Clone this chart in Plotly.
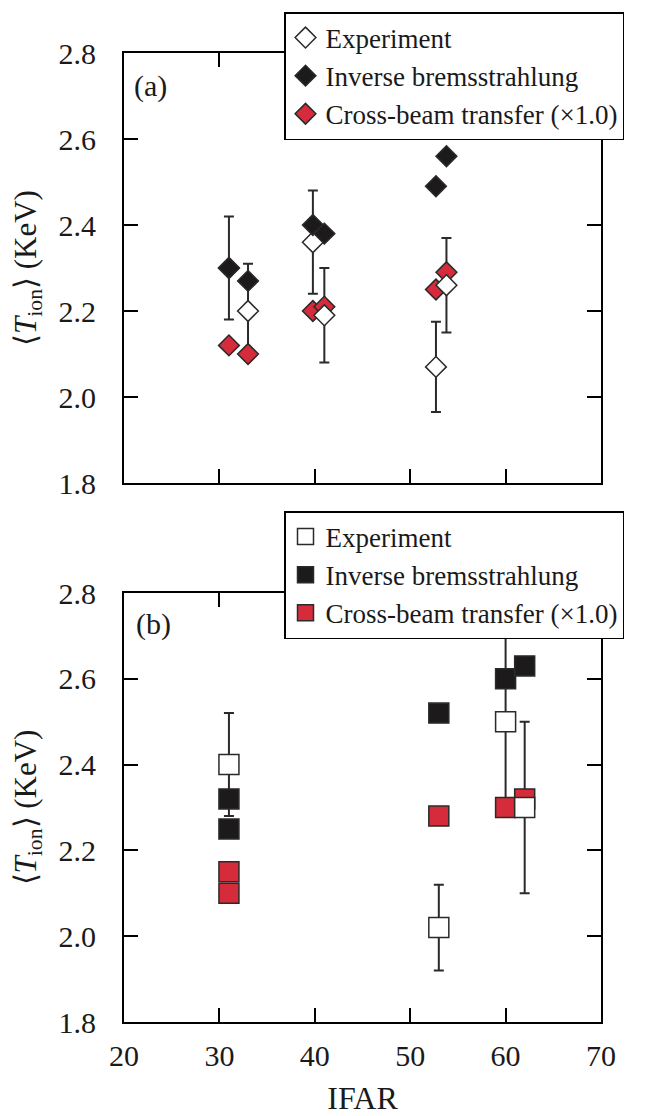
import plotly.graph_objects as go
from plotly.subplots import make_subplots

# ---------------- data ----------------
# Panel (a): diamonds
a_exp_x = [31, 33, 39.8, 41, 52.7, 53.8]
a_exp_y = [2.30, 2.20, 2.36, 2.19, 2.07, 2.26]
a_exp_err = [0.12, 0.11, 0.12, 0.11, 0.105, 0.11]
a_ib_x = [31, 33, 39.8, 41, 52.7, 53.8]
a_ib_y = [2.30, 2.27, 2.40, 2.38, 2.49, 2.56]
a_cbt_x = [31, 33, 39.8, 41, 52.7, 53.8]
a_cbt_y = [2.12, 2.10, 2.20, 2.21, 2.25, 2.29]

# Panel (b): squares
b_exp_x = [31, 53, 60, 62]
b_exp_y = [2.40, 2.02, 2.50, 2.30]
b_exp_err = [0.12, 0.10, 0.20, 0.20]
b_ib_x = [31, 31, 53, 60, 62]
b_ib_y = [2.32, 2.25, 2.52, 2.60, 2.63]
b_cbt_x = [31, 31, 53, 60, 62]
b_cbt_y = [2.15, 2.10, 2.28, 2.30, 2.32]

names = ["Experiment", "Inverse bremsstrahlung", "Cross-beam transfer (\u00d71.0)"]
x_ticks = [20, 30, 40, 50, 60, 70]
y_ticks = [1.8, 2.0, 2.2, 2.4, 2.6, 2.8]

RED = "#d62b3a"
BLACK = "#1c1a1a"
EDGE = "#2a2a2a"
TXT = "#1a1a1a"
FONT = "Liberation Serif"

fig = make_subplots(rows=2, cols=1, shared_xaxes=False, vertical_spacing=0.0)

def add_panel(row, sym, size, ex, ey, eerr, ibx, iby, cx, cy, legend):
    # error bars (drawn underneath everything)
    fig.add_trace(go.Scatter(
        x=ex, y=ey, mode="markers",
        marker=dict(size=1, color="rgba(0,0,0,0)"),
        error_y=dict(type="data", array=eerr, visible=True, color=EDGE,
                     thickness=2, width=5),
        showlegend=False, hoverinfo="skip"), row=row, col=1)
    # cross-beam transfer
    fig.add_trace(go.Scatter(
        x=cx, y=cy, mode="markers", name=names[2], legend=legend, legendrank=3,
        marker=dict(symbol=sym, size=size, color=RED,
                    line=dict(color=EDGE, width=1.5))), row=row, col=1)
    # experiment
    fig.add_trace(go.Scatter(
        x=ex, y=ey, mode="markers", name=names[0], legend=legend, legendrank=1,
        marker=dict(symbol=sym, size=size, color="white",
                    line=dict(color=EDGE, width=1.5))), row=row, col=1)
    # inverse bremsstrahlung
    fig.add_trace(go.Scatter(
        x=ibx, y=iby, mode="markers", name=names[1], legend=legend, legendrank=2,
        marker=dict(symbol=sym, size=size, color=BLACK,
                    line=dict(color=EDGE, width=1.5))), row=row, col=1)

add_panel(1, "diamond", 16, a_exp_x, a_exp_y, a_exp_err, a_ib_x, a_ib_y,
          a_cbt_x, a_cbt_y, "legend")
add_panel(2, "square", 20, b_exp_x, b_exp_y, b_exp_err, b_ib_x, b_ib_y,
          b_cbt_x, b_cbt_y, "legend2")

axis_common = dict(showline=True, linecolor="black", linewidth=2, mirror="ticks",
                   ticks="inside", ticklen=14, tickwidth=1.5, tickcolor="black",
                   showgrid=False, zeroline=False, automargin=False,
                   tickfont=dict(family=FONT, size=30, color=TXT))

for r in (1, 2):
    fig.update_xaxes(range=[20, 70], tickvals=x_ticks, row=r, col=1, **axis_common)
    fig.update_yaxes(range=[1.8, 2.8], tickvals=y_ticks, tickformat=".1f",
                     ticklabelstandoff=20, row=r, col=1, **axis_common)

fig.update_xaxes(showticklabels=False, row=1, col=1)
fig.update_xaxes(title=dict(text="IFAR", font=dict(family=FONT, size=32, color=TXT),
                            standoff=26), ticklabelstandoff=6, row=2, col=1)
ytitle = "\u27e8<i>T</i><sub>ion</sub>\u27e9 (KeV)"
for r in (1, 2):
    fig.update_yaxes(title=dict(text=ytitle, font=dict(family=FONT, size=31, color=TXT),
                                standoff=16), row=r, col=1)

# page body has an 8px margin: figure drawn at (8, 8)
# plot area in page pixels: x 124..601, y 53..1022
H = 969.0
fig.update_layout(
    yaxis=dict(domain=[(1022 - 483) / H, 1.0]),
    yaxis2=dict(domain=[0.0, (1022 - 593) / H]),
)

legend_style = dict(bgcolor="white", bordercolor="black", borderwidth=1.5,
                    font=dict(family=FONT, size=27, color=TXT),
                    xanchor="left", yanchor="top", itemsizing="trace")
fig.update_layout(
    legend=dict(x=(284 - 124) / 477.0, y=(1022 - 12) / H, **legend_style),
    legend2=dict(x=(284 - 124) / 477.0, y=(1022 - 511) / H, **legend_style),
)

fig.add_annotation(text="(a)", xref="x domain", yref="y domain", x=(132 - 124) / 477.0,
                   y=1 - 33 / 430.0, xanchor="left", yanchor="middle", showarrow=False,
                   font=dict(family=FONT, size=30, color=TXT))
fig.add_annotation(text="(b)", xref="x2 domain", yref="y2 domain", x=(134 - 124) / 477.0,
                   y=1 - 31 / 429.0, xanchor="left", yanchor="middle", showarrow=False,
                   font=dict(family=FONT, size=30, color=TXT))

fig.update_layout(
    width=652, height=1108,
    margin=dict(l=116, r=59, t=45, b=94, autoexpand=False),
    plot_bgcolor="white", paper_bgcolor="white",
    font=dict(family=FONT, color=TXT),
)

fig.write_html("out.html")
